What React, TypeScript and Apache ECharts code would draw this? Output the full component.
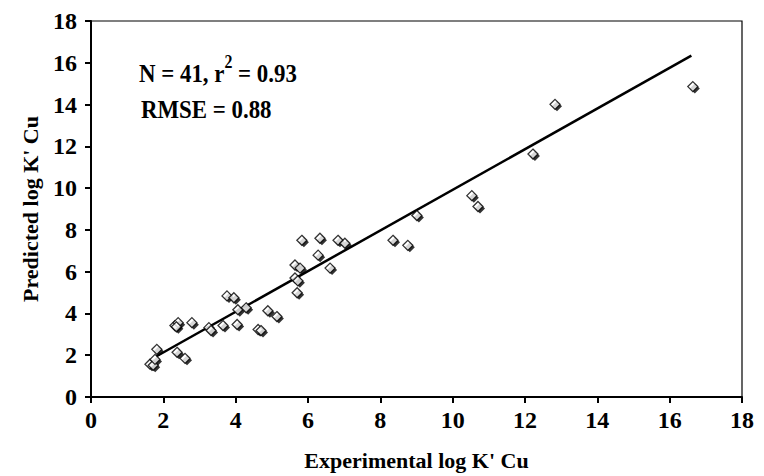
import React, { useEffect, useRef } from "react";
import * as echarts from "echarts";

const expX = [
  1.63, 1.72, 1.77, 1.82, 2.32, 2.41, 2.79, 2.38, 2.6, 3.26, 3.32, 3.65, 4.04,
  3.76, 3.95, 4.06, 4.29, 4.62, 4.7, 4.89, 5.14, 5.64, 5.72, 5.7, 5.83, 6.33,
  6.83, 7.02, 6.28, 5.64, 5.78, 6.61, 8.35, 8.76, 9.01, 10.53, 10.7, 12.22,
  12.83, 16.64, 2.36,
];
const predY = [
  1.57, 1.52, 1.8, 2.28, 3.42, 3.56, 3.56, 2.14, 1.85, 3.32, 3.18, 3.42, 3.47,
  4.84, 4.75, 4.18, 4.27, 3.23, 3.18, 4.13, 3.85, 5.7, 5.56, 4.99, 7.5, 7.6,
  7.5, 7.36, 6.79, 6.32, 6.17, 6.17, 7.5, 7.26, 8.69, 9.64, 9.12, 11.63, 14.01,
  14.86, 3.36,
];
const fitX = [1.8, 16.6];
const fitY = [1.94, 16.34];
const xTicks = [0, 2, 4, 6, 8, 10, 12, 14, 16, 18];
const yTicks = [0, 2, 4, 6, 8, 10, 12, 14, 16, 18];
const xTitle = "Experimental log K' Cu";
const yTitle = "Predicted log K' Cu";

const FONT = "'Liberation Serif', 'Times New Roman', serif";

export default function App() {
  const ref = useRef<HTMLDivElement>(null);
  useEffect(() => {
    document.body.style.margin = "0";
    if (!ref.current) return;
    const chart = echarts.init(ref.current, undefined, { renderer: "svg" });
    const pts = expX.map((x, i) => [x, predY[i]]);
    const axisCommon = {
      min: 0,
      max: 18,
      interval: 2,
      axisLine: { show: true, onZero: false, lineStyle: { color: "#000", width: 2 } },
      axisTick: { show: true, inside: false, length: 6, lineStyle: { color: "#000", width: 2 } },
      splitLine: { show: false },
      nameLocation: "middle" as const,
      nameTextStyle: { fontFamily: FONT, fontWeight: "bold" as const, fontSize: 22, color: "#000" },
    };
    chart.setOption({
      animation: false,
      backgroundColor: "#fff",
      grid: {
        left: 91,
        right: 22,
        top: 21,
        bottom: 76,
        show: true,
        borderColor: "#000",
        borderWidth: 1.2,
      },
      xAxis: {
        type: "value",
        ...axisCommon,
        name: xTitle,
        nameGap: 52,
        axisLabel: {
          margin: 11,
          fontFamily: FONT,
          fontWeight: "bold",
          fontSize: 24,
          color: "#000",
          formatter: (v: number) => (xTicks.includes(v) ? String(v) : ""),
        },
      },
      yAxis: {
        type: "value",
        ...axisCommon,
        name: yTitle,
        nameGap: 50,
        axisLabel: {
          margin: 14,
          fontFamily: FONT,
          fontWeight: "bold",
          fontSize: 24,
          color: "#000",
          formatter: (v: number) => (yTicks.includes(v) ? String(v) : ""),
        },
      },
      series: [
        {
          type: "line",
          data: fitX.map((x, i) => [x, fitY[i]]),
          showSymbol: false,
          symbol: "none",
          lineStyle: { color: "#000", width: 2.5 },
          z: 2,
        },
        {
          type: "scatter",
          data: pts,
          symbol: "diamond",
          symbolSize: 10,
          symbolOffset: [2, 2],
          itemStyle: { color: "#000" },
          z: 3,
        },
        {
          type: "scatter",
          data: pts,
          symbol: "diamond",
          symbolSize: 10,
          itemStyle: { color: "#fff", borderColor: "#000", borderWidth: 1.3 },
          z: 4,
        },
      ],
      graphic: [
        {
          type: "text",
          x: 139,
          y: 53,
          scaleX: 0.88,
          style: {
            text: "{m|N = 41, r}{s|2}{m| = 0.93}",
            rich: {
              m: { fontFamily: FONT, fontWeight: "bold", fontSize: 26, lineHeight: 33, verticalAlign: "bottom", fill: "#000" },
              s: { fontFamily: FONT, fontWeight: "bold", fontSize: 18, lineHeight: 18, verticalAlign: "top", fill: "#000" },
            },
          },
        },
        {
          type: "text",
          x: 141,
          y: 96,
          scaleX: 0.88,
          style: {
            text: "RMSE = 0.88",
            fontFamily: FONT,
            fontWeight: "bold",
            fontSize: 26,
            fill: "#000",
          },
        },
      ],
    });
    return () => chart.dispose();
  }, []);
  return <div ref={ref} style={{ width: 764, height: 476 }} />;
}
